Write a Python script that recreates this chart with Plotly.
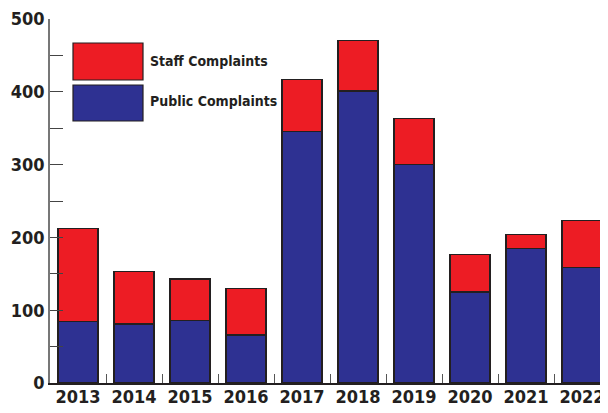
import plotly.graph_objects as go

years = ["2013", "2014", "2015", "2016", "2017", "2018", "2019", "2020", "2021", "2022"]
public_complaints = [85, 81, 86, 66, 345, 401, 300, 125, 185, 159]
staff_complaints = [127, 72, 57, 64, 72, 70, 63, 51, 19, 64]

RED = "#ED1C24"
BLUE = "#2E3192"
INK = "#231F20"
FONT = "DejaVu Sans Condensed, DejaVu Sans"

fig = go.Figure()
fig.add_trace(go.Bar(x=years, y=public_complaints, name="Public Complaints",
                     marker=dict(color=BLUE, line=dict(color=INK, width=1.2))))
fig.add_trace(go.Bar(x=years, y=staff_complaints, name="Staff Complaints",
                     marker=dict(color=RED, line=dict(color=INK, width=1.2))))

# page has an 8px body margin; figure coords = page coords - 8
OFF = 8
W, H = 600, 405
L, R, T, B = 42, 0, 11, 30
pw = W - L - R
ph = H - T - B

def px_x(p):
    return (p - OFF - L) / pw

def px_y(p):
    return (H - B - (p - OFF)) / ph

fig.update_layout(
    width=W, height=H,
    margin=dict(l=L, r=R, t=T, b=B, pad=0, autoexpand=False),
    barmode="stack", bargap=0.286,
    plot_bgcolor="white", paper_bgcolor="white",
    showlegend=False,
    font=dict(family=FONT, color=INK, size=18, weight="bold"),
    xaxis=dict(type="category", range=[-0.5, -0.5 + pw / 56.0],
               showline=True, linecolor=INK, linewidth=1.5,
               ticks="inside", tickson="boundaries", ticklen=9, tickcolor="#555", tickwidth=1,
               tickangle=0, ticklabeloverflow="allow", ticklabelstandoff=-3,
               tickfont=dict(family=FONT, size=18, color=INK, weight="bold"), showgrid=False,
               automargin=False),
    yaxis=dict(range=[0, 500], showline=True, linecolor="#777", linewidth=1.5,
               tickvals=list(range(0, 501, 50)),
               ticktext=[str(v) if v % 100 == 0 else "" for v in range(0, 501, 50)],
               ticks="inside", ticklen=13, tickcolor="#444", tickwidth=1,
               ticklabeloverflow="allow", ticklabelstandoff=0,
               tickfont=dict(family=FONT, size=18, color=INK, weight="bold"),
               showgrid=False, zeroline=False, automargin=False),
)

# legend swatches and labels
fig.add_shape(type="rect", xref="paper", yref="paper",
              x0=px_x(73), x1=px_x(143), y0=px_y(80), y1=px_y(43),
              fillcolor=RED, line=dict(color=INK, width=1.2))
fig.add_shape(type="rect", xref="paper", yref="paper",
              x0=px_x(73), x1=px_x(143), y0=px_y(121), y1=px_y(85),
              fillcolor=BLUE, line=dict(color=INK, width=1.2))
fig.add_annotation(text="Staff Complaints", xref="paper", yref="paper",
                   x=px_x(148), y=px_y(61), xanchor="left", yanchor="middle",
                   showarrow=False, font=dict(family=FONT, size=14, color=INK, weight="bold"))
fig.add_annotation(text="Public Complaints", xref="paper", yref="paper",
                   x=px_x(148), y=px_y(101), xanchor="left", yanchor="middle",
                   showarrow=False, font=dict(family=FONT, size=14, color=INK, weight="bold"))

fig.write_html("out.html")
